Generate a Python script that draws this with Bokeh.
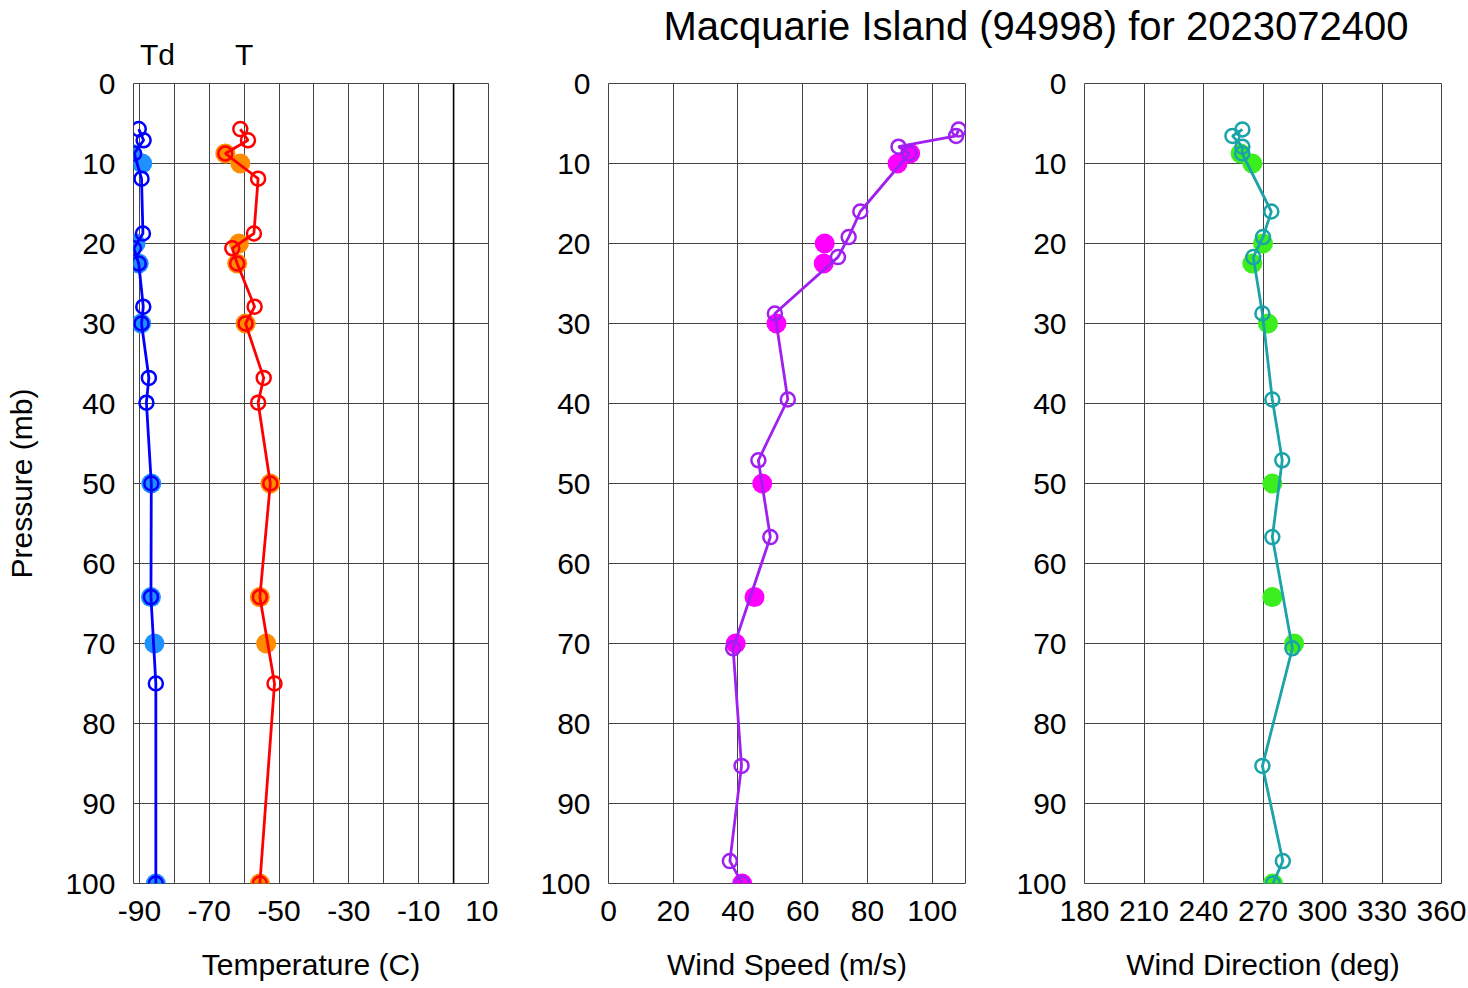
from bokeh.plotting import figure
from bokeh.models import Range1d, FixedTicker, Span, Div
from bokeh.layouts import row, column
from bokeh.embed import file_html
from bokeh.resources import INLINE

# ---- data (pressure in mb) ----
t_p = [5.7, 7.1, 8.75, 11.9, 18.75, 20.6, 22.5, 27.9, 30.0, 36.8, 39.9, 50.0, 64.2, 75.0, 100.0]
t_val = [-61.1, -58.9, -65.4, -56.0, -57.2, -63.4, -62.0, -57.0, -59.6, -54.4, -56.0, -52.5, -55.5, -51.3, -55.5]
td_val = [-90.2, -88.8, -91.5, -89.4, -89.0, -91.6, -90.2, -88.9, -89.4, -87.3, -88.0, -86.6, -86.7, -85.3, -85.3]

mand_p = [8.75, 10.0, 20.0, 22.5, 30.0, 50.0, 64.2, 70.0, 100.0]
t_mand = [-65.4, -61.1, -61.5, -62.0, -59.6, -52.5, -55.5, -53.7, -55.5]
td_mand = [-92.4, -89.2, -91.1, -90.2, -89.5, -86.6, -86.7, -85.7, -85.3]

w_p = [5.75, 6.55, 7.9, 8.75, 16.0, 19.2, 21.7, 28.75, 39.5, 47.1, 56.7, 70.6, 85.3, 97.2, 100.0]
ws_val = [108.2, 107.4, 89.6, 93.0, 77.8, 74.2, 70.9, 51.4, 55.4, 46.3, 50.0, 38.5, 41.1, 37.5, 41.3]
wd_val = [259.6, 254.6, 259.6, 259.5, 274.2, 270.0, 265.1, 269.7, 274.7, 279.7, 274.7, 284.8, 269.7, 280.0, 275.0]
ws_mand = [93.2, 89.3, 66.8, 66.5, 51.9, 47.5, 45.1, 39.3, 41.3]
wd_mand = [258.7, 264.6, 270.0, 264.6, 272.5, 274.7, 274.7, 285.7, 275.0]

p_ticks = list(range(0, 101, 10))
t_ticks = [-90, -70, -50, -30, -10, 10]
t_grid = list(range(-90, 11, 10))
ws_ticks = [0, 20, 40, 60, 80, 100]
wd_ticks = [180, 210, 240, 270, 300, 330, 360]

FONT = "Liberation Sans"
GRID = "#444444"
TOP, FH, BOTTOM = 83, 800, 104
TITLE_H = 52
TD_H = 66


def panel(xr, xticks, xgrid, xlabel, bl, fw, br, top):
    p = figure(width=bl + fw + br, height=top + FH + BOTTOM,
               x_range=Range1d(*xr), y_range=Range1d(100, 0),
               output_backend="svg", toolbar_location=None,
               min_border_left=bl, min_border_right=br,
               min_border_top=top, min_border_bottom=BOTTOM)
    p.xaxis.ticker = FixedTicker(ticks=xticks)
    p.xaxis.major_label_overrides = {v: str(v) for v in xticks}
    p.xgrid.ticker = FixedTicker(ticks=xgrid)
    p.yaxis.ticker = FixedTicker(ticks=p_ticks)
    p.ygrid.ticker = FixedTicker(ticks=p_ticks)
    for g in (p.xgrid, p.ygrid):
        g.grid_line_color = GRID
        g.grid_line_alpha = 1.0
        g.grid_line_width = 1
    for ax in (p.xaxis, p.yaxis):
        ax.axis_line_color = None
        ax.major_tick_line_color = None
        ax.minor_tick_line_color = None
        ax.major_label_text_font = FONT
        ax.major_label_text_font_size = "30px"
        ax.major_label_text_color = "black"
        ax.axis_label_text_font = FONT
        ax.axis_label_text_font_size = "30px"
        ax.axis_label_text_font_style = "normal"
        ax.axis_label_text_color = "black"
    p.xaxis.major_label_standoff = 11
    p.yaxis.major_label_standoff = 12
    p.xaxis.axis_label = xlabel
    p.xaxis.axis_label_standoff = 24
    p.outline_line_color = GRID
    p.outline_line_width = 1
    p.outline_line_alpha = 1.0
    p.background_fill_color = "white"
    p.border_fill_color = "white"
    return p


def profile(p, lx, ly, lcolor, mx, my, mcolor):
    p.scatter(mx, my, marker="circle", size=20, fill_color=mcolor, line_color=None)
    p.line(lx, ly, line_color=lcolor, line_width=2.8)
    p.scatter(lx, ly, marker="circle", size=14, fill_color=None,
              line_color=lcolor, line_width=2.5)


# Panel 1: temperature
f1 = panel((-91.7, 10), t_ticks, t_grid, "Temperature (C)", 133, 355, 10, TOP - TD_H)
f1.yaxis.axis_label = "Pressure (mb)"
f1.yaxis.axis_label_standoff = 24
f1.add_layout(Span(location=0, dimension="height", line_color="black", line_width=1.6))
profile(f1, td_val, t_p, "#0000ff", td_mand, mand_p, "#1e90ff")
profile(f1, t_val, t_p, "#ff0000", t_mand, mand_p, "#ff8c00")

# Panel 2: wind speed
f2 = panel((0, 110.3), ws_ticks, ws_ticks, "Wind Speed (m/s)", 110, 357, 10, TOP - TITLE_H)
profile(f2, ws_val, w_p, "#a020f0", ws_mand, mand_p, "#ff00ff")

# Panel 3: wind direction
f3 = panel((180, 360), wd_ticks, wd_ticks, "Wind Direction (deg)", 109, 357, 26, TOP - TITLE_H)
profile(f3, wd_val, w_p, "#1aa3a8", wd_mand, mand_p, "#3cee1e")

span_style = ("position:absolute;top:45px;line-height:20px;font-family:'Liberation Sans';"
              "font-size:30px;color:#000;white-space:nowrap;")
td_labels = Div(
    text=('<div style="position:relative;width:498px;height:66px;">'
          f'<span style="{span_style}left:140px;">Td</span>'
          f'<span style="{span_style}left:235px;">T</span></div>'),
    width=498, height=TD_H, margin=0)

title = Div(
    text=('<div style="width:800px;margin-left:138px;text-align:center;'
          "font-family:'Liberation Sans';font-size:40px;line-height:52px;"
          'color:#000;white-space:nowrap;">Macquarie Island (94998) for 2023072400</div>'),
    width=969, height=TITLE_H, margin=0)

layout = row(column(td_labels, f1, spacing=0),
             column(title, row(f2, f3, spacing=0), spacing=0), spacing=0)
open("out.html", "w").write(file_html(layout, INLINE, title="sounding"))
